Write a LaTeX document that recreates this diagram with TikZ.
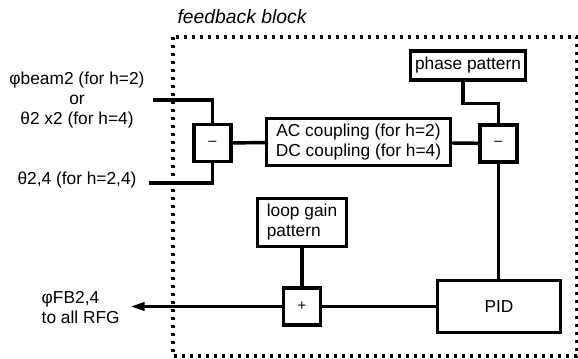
\documentclass[tikz,border=0pt]{standalone}
\usepackage{fontspec}
\setmainfont{Liberation Sans}
\usetikzlibrary{arrows,arrows.meta}

\begin{document}
\begin{tikzpicture}[x=0.75pt,y=-0.75pt,line width=2.6pt,
    box/.style={draw,rectangle,inner sep=0pt,align=center,font=\fontsize{13}{15}\selectfont},
    sumbox/.style={draw,rectangle,inner sep=0pt,minimum width=28pt,minimum height=27.5pt,font=\fontsize{11}{12}\selectfont},
    outtext/.style={align=center,inner sep=0pt,font=\fontsize{13}{15}\selectfont}]
  \useasboundingbox (0,0) rectangle (578,359);
  % frame of the feedback block
  \draw[dash pattern=on 2.6pt off 3.4pt] (173,37) rectangle (577,356);
  \node[font=\fontsize{14.5}{16}\itshape] (title) at (242,17) {feedback block};

  % blocks
  \node[sumbox] (mleft) at (212.5,143) {--};
  \node[box,minimum width=138pt,minimum height=35pt] (coupling) at (358.5,142)
    {AC coupling (for h=2)\\DC coupling (for h=4)};
  \node[sumbox] (mright) at (498.5,143.5) {--};
  \node[box,minimum width=86pt,minimum height=21.5pt] (phase) at (468,65.5) {phase pattern};
  \node[box,minimum width=92.5pt,minimum height=39pt] (pid) at (499,306.5) {PID};
  \node[sumbox] (sum) at (302,306.5) {+};
  \node[box,minimum width=67pt,minimum height=36pt,align=left] (gain) at (302,222.5)
    {loop gain\\pattern};

  % outside texts
  \node[outtext] (beam) at (77,100) {φbeam2 (for h=2)\\or\\θ2 x2 (for h=4)};
  \node[outtext] (theta) at (77,180) {θ2,4 (for h=2,4)};
  \node[outtext,align=left,anchor=west] (fb) at (40,307.5) {φFB2,4\\to all RFG};

  \coordinate (inbeam) at (153,100);
  \coordinate (intheta) at (149,183);
  \coordinate (out) at (130,306.5);

  % connectors
  \draw (inbeam) -| (mleft.north);
  \draw (intheta) -| (mleft.south);
  \draw (mleft) -- (coupling);
  \draw (coupling) -- (mright);
  \draw ([xshift=-3.75pt]phase.south) -- ++(0,22) -| (mright.north);
  \draw (mright.south) -- (mright.south |- pid.north);
  \draw (pid) -- (sum);
  \draw (gain) -- (sum);
  \draw[-{Triangle[length=11pt,width=6pt]}] (sum) -- (out);
\end{tikzpicture}
\end{document}
